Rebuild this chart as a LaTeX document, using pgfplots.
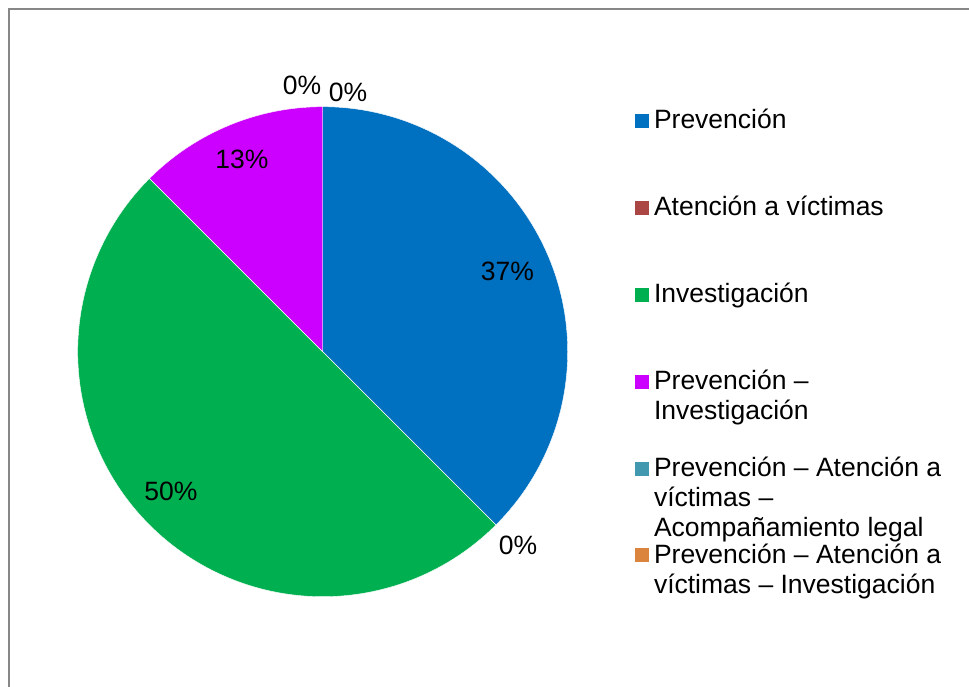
\documentclass[border=0pt]{standalone}
\usepackage{pgfplots}
\pgfplotsset{compat=1.18}
\usepackage{fontspec}
\setmainfont{Liberation Sans}

\definecolor{pieblue}{HTML}{0070C0}
\definecolor{piered}{HTML}{AA4643}
\definecolor{piegreen}{HTML}{00B050}
\definecolor{piepurple}{HTML}{CC00FF}
\definecolor{pieteal}{HTML}{4198AF}
\definecolor{pieorange}{HTML}{DB843D}
\definecolor{framegray}{HTML}{878787}

\newcommand\chartfont{\fontsize{26.5bp}{30bp}\selectfont}
\newcommand\lgtext[1]{\parbox[t]{320bp}{\chartfont\raggedright #1}}

% data (counts per category)
\def\vA{3}% Prevención
\def\vB{0}% Atención a víctimas
\def\vC{4}% Investigación
\def\vD{1}% Prevención – Investigación
\def\vE{0}% Prevención – Atención a víctimas – Acompañamiento legal
\def\vF{0}% Prevención – Atención a víctimas – Investigación
\def\cx{322.7}%
\def\cy{335.3}%
\def\R{245}%

\begin{document}%
\begin{tikzpicture}
\pgfmathsetmacro\tot{\vA+\vB+\vC+\vD+\vE+\vF}
\pgfmathsetmacro\aA{90}
\pgfmathsetmacro\aB{\aA-360*\vA/\tot}
\pgfmathsetmacro\aC{\aB-360*\vB/\tot}
\pgfmathsetmacro\aD{\aC-360*\vC/\tot}
\pgfmathsetmacro\aE{\aD-360*\vD/\tot}
\begin{axis}[
  scale only axis, width=969bp, height=687bp,
  xmin=0, xmax=969, ymin=0, ymax=687,
  hide axis, clip=false,
  legend cell align=left,
  legend style={at={(axis cs:635,584)}, anchor=north west, draw=none, fill=none,
    inner sep=0pt, outer sep=0pt, column sep=5bp, row sep=0pt,
    nodes={inner sep=0pt, outer sep=0pt, text height=26bp, text depth=60.9bp},
    cells={anchor=base west}},
  legend image code/.code={\fill[#1, draw=none] (0bp,1bp) rectangle (14bp,15bp);},
]
\addplot[fill=pieblue, draw=white, line width=0.4bp, domain=\aB:\aA, samples=121, variable=\t]
  ({\cx+\R*cos(\t)}, {\cy+\R*sin(\t)}) -- (axis cs:\cx,\cy) -- cycle;
\addlegendentry{\lgtext{Prevención}}
\addlegendimage{fill=piered}
\addlegendentry{\lgtext{Atención a víctimas}}
\addplot[fill=piegreen, draw=white, line width=0.4bp, domain=\aD:\aC, samples=161, variable=\t]
  ({\cx+\R*cos(\t)}, {\cy+\R*sin(\t)}) -- (axis cs:\cx,\cy) -- cycle;
\addlegendentry{\lgtext{Investigación}}
\addplot[fill=piepurple, draw=white, line width=0.4bp, domain=\aE:\aD, samples=41, variable=\t]
  ({\cx+\R*cos(\t)}, {\cy+\R*sin(\t)}) -- (axis cs:\cx,\cy) -- cycle;
\addlegendentry{\lgtext{Prevención –\\Investigación}}
\addlegendimage{fill=pieteal}
\addlegendentry{\lgtext{Prevención – Atención a\\víctimas –\\Acompañamiento legal}}
\addlegendimage{fill=pieorange}
\addlegendentry{\lgtext{Prevención – Atención a\\víctimas – Investigación}}

% data labels
\node[anchor=base, inner sep=0pt, font=\chartfont] at (axis cs:507.5,406.5) {37\%};
\node[anchor=base, inner sep=0pt, font=\chartfont] at (axis cs:518,132.5) {0\%};
\node[anchor=base, inner sep=0pt, font=\chartfont] at (axis cs:171,186.5) {50\%};
\node[anchor=base, inner sep=0pt, font=\chartfont] at (axis cs:242,518.5) {13\%};
\node[anchor=base, inner sep=0pt, font=\chartfont] at (axis cs:302,592.5) {0\%};
\node[anchor=base, inner sep=0pt, font=\chartfont] at (axis cs:348,585.5) {0\%};

% chart area frame
\draw[framegray, line width=1.5bp] (axis cs:9,0) -- (axis cs:9,678) -- (axis cs:969,678);
\end{axis}
\pgfresetboundingbox
\path (current axis.south west) rectangle (current axis.north east);
\end{tikzpicture}%
\end{document}
